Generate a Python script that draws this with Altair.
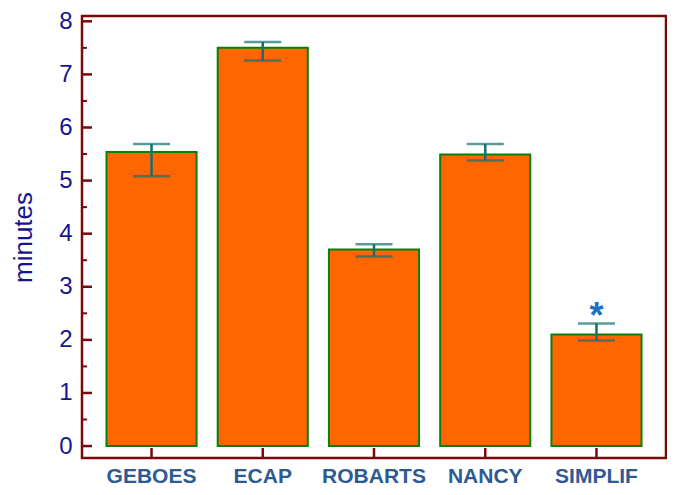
import altair as alt
import pandas as pd

categories = ["GEBOES", "ECAP", "ROBARTS", "NANCY", "SIMPLIF"]
means = [5.54, 7.50, 3.70, 5.49, 2.10]
err_low = [5.08, 7.26, 3.57, 5.38, 1.99]
err_high = [5.69, 7.61, 3.80, 5.69, 2.31]
marks = ["", "", "", "", "*"]

major_ticks = [0, 1, 2, 3, 4, 5, 6, 7, 8]
minor_ticks = [0.5, 1.5, 2.5, 3.5, 4.5, 5.5, 6.5, 7.5]

df = pd.DataFrame({"cat": categories, "mean": means, "lo": err_low, "hi": err_high, "mark": marks})
df_major = pd.DataFrame({"v": major_ticks})
df_minor = pd.DataFrame({"v": minor_ticks})

W, H = 584, 442
frame = "#7a0a0a"

xscale = alt.Scale(domain=categories, paddingInner=0.19, paddingOuter=0.22)
yscale = alt.Scale(domain=[-0.225, 8.1], nice=False, zero=False)
xenc = alt.X("cat:N", scale=xscale, sort=categories)

bars = alt.Chart(df).mark_bar(color="#ff6600", stroke="#0a800a", strokeWidth=2).encode(
    x=alt.X("cat:N", scale=xscale, sort=categories,
            axis=alt.Axis(title=None, ticks=False, domain=False, grid=False, labelAngle=0,
                          labelFont="Liberation Sans", labelFontSize=21, labelFontWeight="bold",
                          labelColor="#2e5a94", labelBaseline="alphabetic", labelPadding=24)),
    y=alt.Y("mean:Q", scale=yscale,
            axis=alt.Axis(title="minutes", values=major_ticks, format="d", ticks=False, domain=False,
                          grid=False, labelFont="Liberation Sans", labelFontSize=24,
                          labelColor="#16168c", labelPadding=10, titleFont="Liberation Sans",
                          titleFontSize=26, titleFontWeight="normal", titleColor="#16168c",
                          titlePadding=22)),
    y2=alt.datum(0),
)

err_rule = alt.Chart(df).mark_rule(color="#137070", strokeWidth=2.5).encode(
    x=xenc, y="lo:Q", y2="hi:Q")
cap_hi = alt.Chart(df).mark_tick(color="#137070", thickness=2.5, size=37, orient="horizontal").encode(
    x=xenc, y="hi:Q")
cap_lo = alt.Chart(df).mark_tick(color="#137070", thickness=2.5, size=37, orient="horizontal").encode(
    x=xenc, y="lo:Q")

star = alt.Chart(df).mark_text(color="#1a6fc8", fontSize=36, fontWeight="bold",
                               font="Liberation Sans", baseline="alphabetic", dy=5).encode(
    x=xenc, y="hi:Q", text="mark:N")

ymajor = alt.Chart(df_major).mark_rule(color=frame, strokeWidth=2.5).encode(
    y="v:Q", x=alt.value(0), x2=alt.value(10))
yminor = alt.Chart(df_minor).mark_rule(color=frame, strokeWidth=2).encode(
    y="v:Q", x=alt.value(0), x2=alt.value(5))
xticks = alt.Chart(df).mark_rule(color=frame, strokeWidth=2.5).encode(
    x=xenc, y=alt.value(H), y2=alt.value(H - 10))

chart = alt.layer(bars, err_rule, cap_hi, cap_lo, star, ymajor, yminor, xticks).properties(
    width=W, height=H,
    autosize=alt.AutoSizeParams(type="none"),
    padding={"left": 74, "top": 8, "right": 1, "bottom": 29},
).configure_view(stroke=frame, strokeWidth=2.5)

chart.save("out.html", embed_options={"renderer": "svg", "actions": False})
